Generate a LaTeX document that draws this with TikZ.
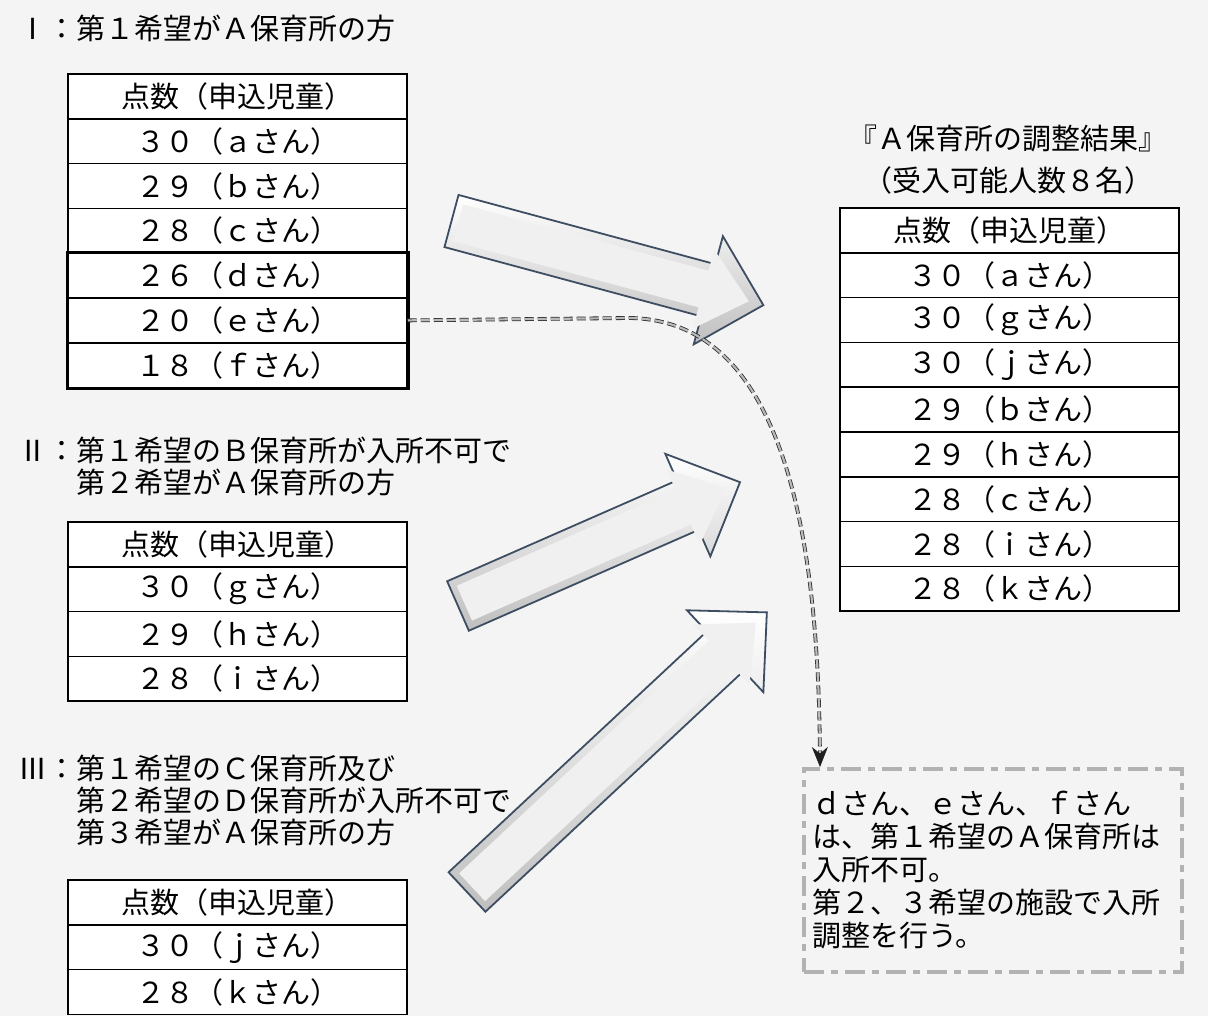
\documentclass[tikz,border=0pt]{standalone}
\usepackage{fontspec}
\setmainfont{Noto Sans CJK JP}
\usetikzlibrary{arrows.meta,calc}

\definecolor{arrowedge}{RGB}{62,78,98}
\definecolor{paper}{RGB}{244,244,244}

\tikzset{
  cell/.style={draw, line width=1.5pt, fill=white, minimum width=339pt,
    minimum height=44.8pt, inner sep=0pt, font=\fontsize{29}{32}\selectfont},
  caption/.style={anchor=west, inner sep=0pt, align=left,
    font=\fontsize{29}{32}\selectfont},
  heading/.style={inner sep=0pt, font=\fontsize{29}{32}\selectfont},
  blockarrow/.style={draw=arrowedge, line width=1.8pt, top color=white,
    bottom color=gray!50},
  notebox/.style={draw=gray!60, line width=4pt, fill=paper,
    dash pattern=on 20pt off 7pt on 7pt off 7pt, text width=362pt,
    inner sep=8pt, align=left, font=\fontsize{29}{33}\selectfont},
  link/.style={draw=gray!35!black, double=gray!55, line width=0.8pt,
    double distance=2.2pt, dash pattern=on 9pt off 4pt,
    -{Stealth[length=20pt,width=16pt,fill=gray!25!black,color=gray!25!black]}},
}

% block arrow: tail centre, angle, length
\newcommand{\blockarrow}[3]{%
  \begin{scope}[shift={#1}, rotate=#2]
    \shade[blockarrow] (0,-27) -- ({#3-57},-27) -- ({#3-57},-56) -- (#3,0)
      -- ({#3-57},56) -- ({#3-57},27) -- (0,27) -- cycle;
    \fill[gray!12] (7,-19) -- ({#3-62},-19) -- ({#3-62},-41) -- ({#3-15},0)
      -- ({#3-62},41) -- ({#3-62},19) -- (7,19) -- cycle;
  \end{scope}}

\begin{document}
\begin{tikzpicture}[x=1pt, y=-1pt]
\fill[paper] (0,0) rectangle (1208,1016);
\useasboundingbox (0,0) rectangle (1208,1016);

% captions
\node[caption] (cap1) at (18,28) {Ⅰ：第１希望がＡ保育所の方};
\node[caption] (cap2) at (18,466) {Ⅱ：第１希望のＢ保育所が入所不可で\\
  \hspace*{2em}第２希望がＡ保育所の方};
\node[caption] (cap3) at (18,800) {Ⅲ：第１希望のＣ保育所及び\\
  \hspace*{2em}第２希望のＤ保育所が入所不可で\\
  \hspace*{2em}第３希望がＡ保育所の方};

% tables
\foreach \txt [count=\i from 0] in {点数（申込児童）, ３０（ａさん）, ２９（ｂさん）,
    ２８（ｃさん）, ２６（ｄさん）, ２０（ｅさん）, １８（ｆさん）}
  \node[cell] (t1-\i) at (237.5,{96.4+44.8*\i}) {\txt};
\draw[line width=3.5pt] (t1-4.north west) rectangle (t1-6.south east);

\foreach \txt [count=\i from 0] in {点数（申込児童）, ３０（ｇさん）, ２９（ｈさん）,
    ２８（ｉさん）}
  \node[cell] (t2-\i) at (237.5,{544.4+44.8*\i}) {\txt};

\foreach \txt [count=\i from 0] in {点数（申込児童）, ３０（ｊさん）, ２８（ｋさん）}
  \node[cell] (t3-\i) at (237.5,{902.4+44.8*\i}) {\txt};

\node[heading] (res-title) at (1008,138) {『Ａ保育所の調整結果』};
\node[heading] (res-sub) at (1008,180) {（受入可能人数８名）};
\foreach \txt [count=\i from 0] in {点数（申込児童）, ３０（ａさん）, ３０（ｇさん）,
    ３０（ｊさん）, ２９（ｂさん）, ２９（ｈさん）, ２８（ｃさん）, ２８（ｉさん）,
    ２８（ｋさん）}
  \node[cell] (res-\i) at (1009.5,{230.4+44.8*\i}) {\txt};

% big arrows
\blockarrow{(451.5,221)}{-15.1}{323}
\blockarrow{(458,606)}{23.7}{308}
\blockarrow{(467,892)}{43}{410}

% note
\node[notebox, anchor=north west, minimum width=378pt, minimum height=203pt]
  (note) at (802,767) {ｄさん、ｅさん、ｆさん\\は、第１希望のＡ保育所は\\入所不可。\\
  第２、３希望の施設で入所\\調整を行う。};
\coordinate (note-in) at ($(note.north west)+(18,0)$);

\draw[link] (t1-5.east) -- (630,318) .. controls (750,320) and (818,450) .. (note-in);
\end{tikzpicture}
\end{document}
